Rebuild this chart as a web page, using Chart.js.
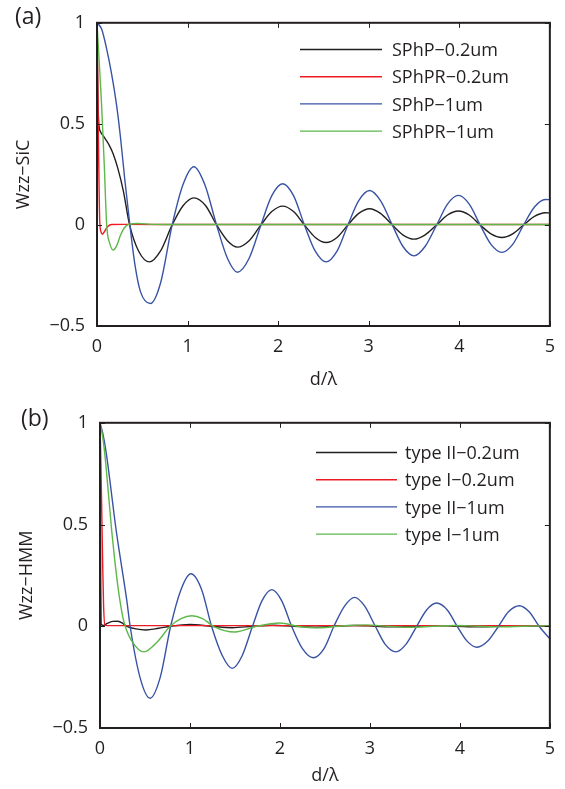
<!DOCTYPE html>
<html>
<head>
<meta charset="utf-8">
<script src="https://cdn.jsdelivr.net/npm/chart.js@4.4.1/dist/chart.umd.min.js"></script>
<style>
  html, body { margin: 0; padding: 0; background: #fff; }
  #wrap { position: relative; width: 565px; height: 789px; overflow: hidden; }
  canvas { position: absolute; left: 0; }
  #chartA { top: 0; }
  #chartB { top: 400px; }
</style>
</head>
<body>
<div id="wrap">
  <canvas id="chartA" width="565" height="400"></canvas>
  <canvas id="chartB" width="565" height="389"></canvas>
</div>
<script>
'use strict';
// ---- data ----
const xTicks = [0, 1, 2, 3, 4, 5];
const yTicks = [-0.5, 0, 0.5, 1];

// (a) Wzz-SiC
const aLabels = ['SPhP\u22120.2um', 'SPhPR\u22120.2um', 'SPhP\u22121um', 'SPhPR\u22121um'];
const aBlackX = [0, 0.005, 0.01, 0.02, 0.04, 0.07, 0.1, 0.14, 0.18, 0.23, 0.29, 0.36, 0.46, 0.58, 0.7, 0.83, 0.95, 1.07, 1.2, 1.32, 1.44, 1.55, 1.68, 1.81, 1.93, 2.05, 2.17, 2.29, 2.41, 2.53, 2.65, 2.77, 2.89, 3.01, 3.13, 3.26, 3.38, 3.5, 3.62, 3.75, 3.87, 3.99, 4.11, 4.23, 4.35, 4.47, 4.59, 4.71, 4.83, 4.95, 5];
const aBlackY = [1, 0.8, 0.62, 0.5, 0.46, 0.44, 0.42, 0.39, 0.35, 0.28, 0.17, 0, -0.13, -0.183, -0.13, 0, 0.095, 0.134, 0.095, 0, -0.078, -0.11, -0.078, 0, 0.066, 0.093, 0.066, 0, -0.062, -0.087, -0.062, 0, 0.057, 0.08, 0.057, 0, -0.05, -0.07, -0.05, 0, 0.049, 0.069, 0.049, 0, -0.044, -0.062, -0.044, 0, 0.042, 0.06, 0.059];
const aRedX = [0, 0.01, 0.02, 0.03, 0.045, 0.06, 0.08, 0.11, 0.16, 0.3, 1, 2, 3, 4, 5];
const aRedY = [1, 0.65, 0.28, 0.02, -0.035, -0.046, -0.035, -0.012, 0.002, 0.003, 0.002, 0.002, 0.002, 0.002, 0.002];
const aBlueX = [0, 0.05, 0.107, 0.16, 0.217, 0.26, 0.308, 0.363, 0.42, 0.48, 0.59, 0.7, 0.83, 0.95, 1.07, 1.19, 1.32, 1.44, 1.55, 1.68, 1.81, 1.93, 2.05, 2.17, 2.29, 2.41, 2.53, 2.65, 2.77, 2.89, 3.01, 3.13, 3.26, 3.38, 3.5, 3.62, 3.75, 3.87, 3.99, 4.11, 4.23, 4.35, 4.47, 4.59, 4.71, 4.83, 4.95, 5];
const aBlueY = [1, 0.97, 0.87, 0.75, 0.59, 0.43, 0.22, 0, -0.2, -0.33, -0.389, -0.29, 0, 0.2, 0.288, 0.2, 0, -0.165, -0.234, -0.165, 0, 0.145, 0.204, 0.145, 0, -0.13, -0.183, -0.13, 0, 0.12, 0.17, 0.12, 0, -0.108, -0.153, -0.108, 0, 0.103, 0.146, 0.103, 0, -0.096, -0.136, -0.096, 0, 0.089, 0.126, 0.125];
const aGreenX = [0, 0.02, 0.05, 0.08, 0.107, 0.14, 0.18, 0.22, 0.26, 0.3, 0.35, 0.45, 0.6, 1, 2, 3, 4, 5];
const aGreenY = [1, 0.84, 0.6, 0.3, 0, -0.09, -0.124, -0.1, -0.05, -0.015, 0.003, 0.007, 0.003, 0.002, 0.002, 0.002, 0.002, 0.002];

// (b) Wzz-HMM
const bLabels = ['type II\u22120.2um', 'type I\u22120.2um', 'type II\u22121um', 'type I\u22121um'];
const bBlackX = [0, 0.004, 0.008, 0.012, 0.04, 0.08, 0.14, 0.2, 0.26, 0.3, 0.4, 0.51, 0.65, 0.78, 1.0, 1.24, 1.47, 1.7, 1.92, 2.15, 2.38, 2.6, 2.83, 3.06, 3.29, 3.52, 3.74, 3.97, 4.19, 4.43, 4.66, 5];
const bBlackY = [1, 0.6, 0.2, 0.01, 0.004, 0.014, 0.024, 0.025, 0.012, 0, -0.013, -0.018, -0.01, 0, 0.009, 0, -0.007, 0, 0.005, 0, -0.004, 0, 0.004, 0, -0.003, 0, 0.003, 0, -0.003, 0, 0.002, 0];
const bRedX = [0, 0.01, 0.02, 0.03, 0.04, 0.055, 0.08, 0.2, 1, 2, 3, 4, 5];
const bRedY = [1, 0.8, 0.55, 0.3, 0.1, 0.005, 0.003, 0.003, 0.003, 0.003, 0.003, 0.003, 0.003];
const bBlueX = [0, 0.03, 0.07, 0.12, 0.165, 0.21, 0.256, 0.3, 0.335, 0.45, 0.557, 0.67, 0.785, 0.9, 1.01, 1.13, 1.24, 1.36, 1.47, 1.58, 1.695, 1.8, 1.91, 2.02, 2.13, 2.25, 2.37, 2.49, 2.6, 2.72, 2.83, 2.94, 3.06, 3.17, 3.29, 3.4, 3.52, 3.63, 3.74, 3.86, 3.97, 4.08, 4.19, 4.31, 4.43, 4.54, 4.66, 4.77, 4.88, 5];
const bBlueY = [1, 0.95, 0.85, 0.68, 0.52, 0.38, 0.25, 0.12, 0, -0.26, -0.354, -0.25, 0, 0.18, 0.258, 0.18, 0, -0.145, -0.207, -0.145, 0, 0.125, 0.18, 0.125, 0, -0.11, -0.155, -0.11, 0, 0.1, 0.142, 0.1, 0, -0.089, -0.126, -0.089, 0, 0.08, 0.114, 0.08, 0, -0.073, -0.103, -0.073, 0, 0.071, 0.101, 0.071, 0, -0.062];
const bGreenX = [0, 0.03, 0.055, 0.1, 0.13, 0.165, 0.21, 0.256, 0.28, 0.35, 0.49, 0.63, 0.78, 0.9, 1.02, 1.14, 1.26, 1.5, 1.74, 2.0, 2.2, 2.4, 2.65, 2.95, 3.2, 3.45, 3.7, 3.95, 4.2, 4.45, 4.7, 5];
const bGreenY = [1, 0.93, 0.84, 0.62, 0.47, 0.32, 0.16, 0.04, 0, -0.07, -0.126, -0.08, 0, 0.038, 0.052, 0.038, 0, -0.028, 0, 0.016, 0, -0.008, 0, 0.007, 0, -0.005, 0, 0.004, 0, -0.003, 0, 0.003];

const colors = ['#231f20', '#ed1c24', '#3953a4', '#5cb848'];
const INK = '#231f20';
const FONT = "'Open Sans', sans-serif";

const pts = (xs, ys) => xs.map((x, i) => ({ x, y: ys[i] }));
const fmt = v => (v < 0 ? '\u2212' + Math.abs(v) : String(v));

// box, inward ticks, legend and panel letter
const decor = {
  id: 'decor',
  afterDatasetsDraw(chart, args, o) {
    const { ctx, chartArea: a, scales: { x, y } } = chart;
    ctx.save();
    ctx.strokeStyle = INK;
    ctx.lineWidth = 1;
    ctx.beginPath();
    xTicks.forEach(v => {
      const px = Math.round(x.getPixelForValue(v)) + 0.5;
      ctx.moveTo(px, a.bottom); ctx.lineTo(px, a.bottom - 5);
      ctx.moveTo(px, a.top); ctx.lineTo(px, a.top + 5);
    });
    yTicks.forEach(v => {
      const py = Math.round(y.getPixelForValue(v)) + 0.5;
      ctx.moveTo(a.left, py); ctx.lineTo(a.left + 5, py);
      ctx.moveTo(a.right, py); ctx.lineTo(a.right - 5, py);
    });
    ctx.stroke();
    ctx.lineWidth = 2;
    ctx.strokeRect(a.left, a.top, a.right - a.left, a.bottom - a.top);

    // legend
    ctx.font = `18px ${FONT}`;
    ctx.textBaseline = 'middle';
    ctx.textAlign = 'left';
    chart.data.datasets.forEach((ds, i) => {
      const yy = o.legY + i * o.legDy;
      ctx.strokeStyle = ds.borderColor;
      ctx.lineWidth = 1.4;
      ctx.beginPath();
      ctx.moveTo(o.legX0, yy); ctx.lineTo(o.legX1, yy);
      ctx.stroke();
      ctx.fillStyle = INK;
      ctx.fillText(ds.label, o.legTx, yy + 1.5);
    });

    ctx.font = `23px ${FONT}`;
    ctx.textBaseline = 'alphabetic';
    ctx.fillText(o.tag, o.tagX, o.tagY);
    ctx.restore();
  }
};

function makeChart(id, labels, series, cfg) {
  new Chart(document.getElementById(id), {
    type: 'line',
    data: {
      datasets: series.map((s, i) => ({
        label: labels[i],
        data: pts(s[0], s[1]),
        borderColor: colors[i],
        borderWidth: 1.4,
        pointRadius: 0,
        cubicInterpolationMode: 'monotone',
        order: series.length - i
      }))
    },
    options: {
      responsive: false,
      animation: false,
      devicePixelRatio: 1,
      layout: { padding: cfg.pad },
      plugins: { legend: { display: false }, tooltip: { enabled: false }, decor: cfg.decor },
      scales: {
        x: {
          type: 'linear', min: 0, max: 5,
          afterBuildTicks: s => { s.ticks = xTicks.map(v => ({ value: v })); },
          afterFit: s => { s.height = cfg.xH; },
          grid: { display: false, drawTicks: false },
          border: { display: false },
          ticks: { padding: 10, color: INK, font: { family: FONT, size: 18 }, callback: fmt, maxRotation: 0 },
          title: { display: true, text: 'd/\u03bb', color: INK, font: { family: FONT, size: 18 }, padding: { top: 0, bottom: cfg.xTitlePad } }
        },
        y: {
          type: 'linear', min: -0.5, max: 1,
          afterBuildTicks: s => { s.ticks = yTicks.map(v => ({ value: v })); },
          afterFit: s => { s.width = cfg.yW; },
          grid: { display: false, drawTicks: false },
          border: { display: false },
          ticks: { padding: 12, color: INK, font: { family: FONT, size: 18 }, callback: fmt },
          title: { display: true, text: cfg.yTitle, color: INK, font: { family: FONT, size: 18 }, padding: { top: cfg.yTitlePad, bottom: 0 } }
        }
      }
    },
    plugins: [decor]
  });
}

makeChart('chartA', aLabels,
  [[aBlackX, aBlackY], [aRedX, aRedY], [aBlueX, aBlueY], [aGreenX, aGreenY]],
  {
    pad: { left: 0, top: 19, right: 14, bottom: 0 },
    xH: 74, yW: 97, xTitlePad: 9, yTitlePad: 13, yTitle: 'Wzz\u2212SiC',
    decor: { legX0: 300, legX1: 382, legTx: 392, legY: 49.5, legDy: 27.2, tag: '(a)', tagX: 15, tagY: 24 }
  });

makeChart('chartB', bLabels,
  [[bBlackX, bBlackY], [bRedX, bRedY], [bBlueX, bBlueY], [bGreenX, bGreenY]],
  {
    pad: { left: 0, top: 21, right: 10, bottom: 0 },
    xH: 61, yW: 100, xTitlePad: 2, yTitlePad: 16, yTitle: 'Wzz\u2212HMM',
    decor: { legX0: 316, legX1: 397, legTx: 405, legY: 52.5, legDy: 27.2, tag: '(b)', tagX: 21, tagY: 26 }
  });
</script>
</body>
</html>
